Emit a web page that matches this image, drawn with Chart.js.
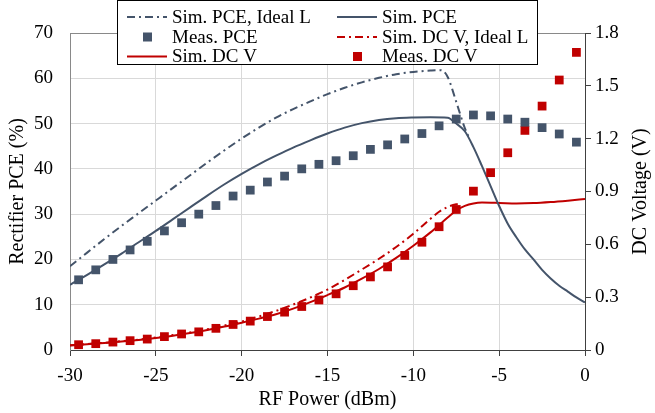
<!DOCTYPE html>
<html>
<head>
<meta charset="utf-8">
<script src="https://cdn.jsdelivr.net/npm/chart.js@4.4.1/dist/chart.umd.min.js"></script>
<style>
  html, body { margin: 0; padding: 0; background: #ffffff; }
  #wrap { width: 655px; height: 413px; }
</style>
</head>
<body>
<div id="wrap"><canvas id="c" width="655" height="413"></canvas></div>
<script>
// Axis ticks
const dbmTicks = [-30, -25, -20, -15, -10, -5, 0];
const pceTicks = [0, 10, 20, 30, 40, 50, 60, 70];
const voltTicks = [0, 0.3, 0.6, 0.9, 1.2, 1.5, 1.8];

// Measured points (one every dBm)
const measX = [-29.5, -28.5, -27.5, -26.5, -25.5, -24.5, -23.5, -22.5, -21.5, -20.5,
               -19.5, -18.5, -17.5, -16.5, -15.5, -14.5, -13.5, -12.5, -11.5, -10.5,
               -9.5, -8.5, -7.5, -6.5, -5.5, -4.5, -3.5, -2.5, -1.5, -0.5];
const measPce = [15.5, 17.7, 20.0, 22.1, 24.0, 26.3, 28.1, 30.0, 31.9, 34.0,
                 35.3, 37.1, 38.4, 40.0, 41.0, 41.8, 42.9, 44.3, 45.3, 46.6,
                 47.8, 49.5, 51.0, 51.9, 51.7, 51.0, 50.3, 49.1, 47.7, 45.9];
const measDcV = [0.030, 0.036, 0.045, 0.053, 0.062, 0.076, 0.091, 0.103, 0.123, 0.145,
                 0.164, 0.190, 0.215, 0.247, 0.284, 0.319, 0.365, 0.415, 0.472, 0.537,
                 0.612, 0.700, 0.798, 0.902, 1.007, 1.120, 1.247, 1.385, 1.533, 1.690];

// Simulated PCE
const simPceX = [-30, -29, -28, -27, -26, -25, -24, -23, -22, -21, -20, -19, -18, -17, -16,
                 -15, -14, -13, -12, -11, -10, -9, -8, -7.5, -7, -6.5, -6, -5.5, -5, -4.5,
                 -4, -3.5, -3, -2.5, -2, -1.5, -1, -0.5, 0];
const simPce = [14.4, 16.6, 18.9, 21.3, 23.8, 26.3, 28.9, 31.5, 34.1, 36.6, 38.9, 41.0, 42.9, 44.7, 46.3,
                47.8, 49.1, 50.1, 50.8, 51.2, 51.35, 51.4, 51.3, 50.0, 48.3, 44.8, 40.6, 36.2, 31.8, 27.9,
                24.9, 22.2, 20.0, 17.7, 15.8, 14.2, 12.9, 11.6, 10.5];

// Simulated PCE with ideal inductor
const simPceIdealX = [-30, -29, -28, -27, -26, -25, -24, -23, -22, -21, -20, -19, -18, -17,
                      -16, -15, -14, -13, -12, -11, -10, -9, -8.4, -8, -7.5, -7, -6.7];
const simPceIdeal = [18.5, 21.5, 24.5, 27.4, 30.2, 33.0, 35.8, 38.6, 41.4, 44.1, 46.7, 49.1, 51.3, 53.2,
                     54.9, 56.5, 57.9, 59.1, 60.1, 60.9, 61.4, 61.7, 61.8, 60.3, 54.8, 49.0, 46.5];

// Simulated DC voltage
const simDcX = [-30, -29, -28, -27, -26, -25, -24, -23, -22, -21, -20, -19, -18, -17, -16,
                -15, -14, -13, -12, -11, -10, -9, -8, -7.5, -7, -6.5, -6, -5, -4, -3, -2, -1, 0];
const simDcV = [0.026, 0.033, 0.040, 0.048, 0.057, 0.068, 0.081, 0.096, 0.113, 0.133, 0.155, 0.178, 0.203, 0.235, 0.272,
                0.312, 0.355, 0.405, 0.460, 0.523, 0.592, 0.668, 0.752, 0.792, 0.818, 0.832, 0.837, 0.835, 0.832, 0.834, 0.840, 0.848, 0.857];

// Simulated DC voltage with ideal inductor
const simDcIdealX = [-30, -29, -28, -27, -26, -25, -24, -23, -22, -21, -20, -19, -18, -17,
                     -16, -15, -14, -13, -12, -11, -10, -9, -8.5, -8, -7.5, -7.2];
const simDcIdeal = [0.027, 0.034, 0.041, 0.050, 0.059, 0.071, 0.085, 0.100, 0.118, 0.139, 0.162, 0.190, 0.222, 0.258,
                    0.298, 0.343, 0.398, 0.457, 0.518, 0.585, 0.660, 0.745, 0.785, 0.812, 0.828, 0.832];

const FONT = '"Liberation Serif", "Times New Roman", serif';
const BLUE = '#44546A';
const RED = '#C00000';
const DASH_DOT = [8, 4, 2, 4];

const pts = (xs, ys) => xs.map((x, i) => ({ x: x, y: ys[i] }));

const lineDs = (label, xs, ys, color, axis, dash) => ({
  label: label,
  data: pts(xs, ys),
  borderColor: color,
  backgroundColor: color,
  borderWidth: 2,
  borderDash: dash || [],
  pointRadius: 0,
  showLine: true,
  fill: false,
  cubicInterpolationMode: 'monotone',
  yAxisID: axis,
  order: 2
});

const markDs = (label, xs, ys, color, axis) => ({
  label: label,
  data: pts(xs, ys),
  borderColor: color,
  backgroundColor: color,
  borderWidth: 0,
  pointStyle: 'rect',
  pointRadius: 6.2,
  showLine: false,
  yAxisID: axis,
  order: 1
});

// Legend: two columns, three rows, boxed over the top of the plot
const legendSlots = [
  { ds: 0, col: 0, row: 0 }, { ds: 1, col: 1, row: 0 },
  { ds: 2, col: 0, row: 1 }, { ds: 3, col: 1, row: 1 },
  { ds: 4, col: 0, row: 2 }, { ds: 5, col: 1, row: 2 }
];

const decor = {
  id: 'decor',
  beforeDraw(chart) {
    const ctx = chart.ctx;
    ctx.save();
    ctx.fillStyle = '#ffffff';
    ctx.fillRect(0, 0, chart.width, chart.height);
    ctx.restore();
  },
  beforeDatasetsDraw(chart) {
    const { ctx, chartArea: a } = chart;
    ctx.save();
    ctx.strokeStyle = '#898989';
    ctx.lineWidth = 1;
    ctx.beginPath();
    ctx.moveTo(a.left, Math.round(a.top) + 0.5);
    ctx.lineTo(a.right, Math.round(a.top) + 0.5);
    ctx.stroke();
    ctx.restore();
  },
  afterDraw(chart) {
    const { ctx, chartArea: a } = chart;
    // right axis title, reading bottom to top
    ctx.save();
    ctx.translate(641, (a.top + a.bottom) / 2);
    ctx.rotate(-Math.PI / 2);
    ctx.font = '20px ' + FONT;
    ctx.fillStyle = '#000';
    ctx.textAlign = 'center';
    ctx.textBaseline = 'middle';
    ctx.fillText('DC Voltage (V)', 0, 0);
    ctx.restore();

    // legend box
    ctx.save();
    ctx.fillStyle = '#ffffff';
    ctx.fillRect(117, 0, 420, 64);
    ctx.strokeStyle = '#000000';
    ctx.lineWidth = 1;
    ctx.strokeRect(117.5, 0.5, 420, 64);
    const colX = [127, 337];
    const rowY = [17, 37, 56.5];
    ctx.font = '19px ' + FONT;
    ctx.textBaseline = 'middle';
    ctx.textAlign = 'left';
    legendSlots.forEach(s => {
      const ds = chart.data.datasets[s.ds];
      const x0 = colX[s.col];
      const y = rowY[s.row];
      if (ds.showLine) {
        ctx.save();
        ctx.strokeStyle = ds.borderColor;
        ctx.lineWidth = 2;
        ctx.setLineDash(ds.borderDash || []);
        ctx.beginPath();
        ctx.moveTo(x0, y);
        ctx.lineTo(x0 + 40, y);
        ctx.stroke();
        ctx.restore();
      } else {
        ctx.fillStyle = ds.backgroundColor;
        ctx.fillRect(x0 + 16, y - 4.5, 9, 9);
      }
      ctx.fillStyle = '#000';
      ctx.fillText(ds.label, x0 + 45, y + 1);
    });
    ctx.restore();
  }
};

new Chart(document.getElementById('c'), {
  type: 'scatter',
  data: {
    datasets: [
      lineDs('Sim. PCE, Ideal L', simPceIdealX, simPceIdeal, BLUE, 'y', DASH_DOT),
      lineDs('Sim. PCE', simPceX, simPce, BLUE, 'y'),
      markDs('Meas. PCE', measX, measPce, BLUE, 'y'),
      lineDs('Sim. DC V, Ideal L', simDcIdealX, simDcIdeal, RED, 'y1', DASH_DOT),
      lineDs('Sim. DC V', simDcX, simDcV, RED, 'y1'),
      markDs('Meas. DC V', measX, measDcV, RED, 'y1')
    ]
  },
  options: {
    responsive: false,
    animation: false,
    devicePixelRatio: 1,
    layout: { padding: { top: 33, left: 0, right: 0, bottom: 0 } },
    plugins: { legend: { display: false }, tooltip: { enabled: false } },
    scales: {
      x: {
        type: 'linear',
        min: -30, max: 0,
        afterBuildTicks: s => { s.ticks = dbmTicks.map(v => ({ value: v })); },
        afterFit: s => { s.height = 63; },
        ticks: { font: { family: FONT, size: 19 }, color: '#000', padding: 9 },
        grid: { color: '#D9D9D9', tickColor: '#404040', tickLength: 6, lineWidth: 1 },
        border: { color: '#404040', width: 1 },
        title: { display: true, text: 'RF Power (dBm)', color: '#000',
                 font: { family: FONT, size: 20 }, padding: { top: 0, bottom: 1 } }
      },
      y: {
        position: 'left',
        min: 0, max: 70,
        afterBuildTicks: s => { s.ticks = pceTicks.map(v => ({ value: v })); },
        afterFit: s => { s.width = 70; },
        ticks: { font: { family: FONT, size: 19 }, color: '#000', padding: 17 },
        grid: { color: '#D9D9D9', drawTicks: false, lineWidth: 1 },
        border: { color: '#898989', width: 1 },
        title: { display: true, text: 'Rectifier PCE (%)', color: '#000',
                 font: { family: FONT, size: 20 }, padding: { top: 6, bottom: 0 } }
      },
      y1: {
        position: 'right',
        min: 0, max: 1.8,
        afterBuildTicks: s => { s.ticks = voltTicks.map(v => ({ value: v })); },
        afterFit: s => { s.width = 70; },
        ticks: { font: { family: FONT, size: 19 }, color: '#000', padding: 4,
                 callback: v => (v === 0 ? '0' : v.toFixed(1)) },
        grid: { drawOnChartArea: false, tickColor: '#404040', tickLength: 6 },
        border: { color: '#404040', width: 1 }
      }
    }
  },
  plugins: [decor]
});
</script>
</body>
</html>
